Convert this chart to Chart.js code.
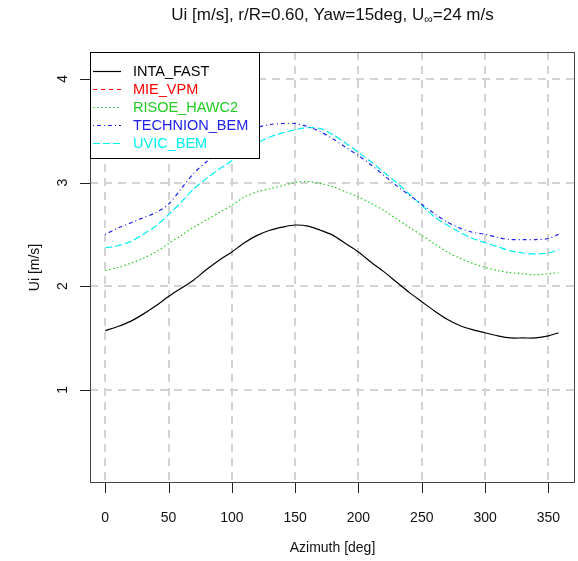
<!DOCTYPE html>
<html>
<head>
<meta charset="utf-8">
<script src="https://cdn.jsdelivr.net/npm/chart.js@4"></script>
<style>
html,body{margin:0;padding:0;background:#fff;}
#wrap{width:578px;height:561px;}
</style>
</head>
<body>
<div id="wrap"><canvas id="c" width="578" height="561"></canvas></div>
<script>
const azimuth = [0,10,20,30,40,50,60,70,80,90,100,110,120,130,140,150,160,170,180,190,200,210,220,230,240,250,260,270,280,290,300,310,320,330,340,350,358];
const intaFast = [1.57,1.61,1.66,1.73,1.81,1.90,1.98,2.06,2.16,2.25,2.33,2.42,2.49,2.54,2.57,2.59,2.58,2.54,2.49,2.41,2.33,2.23,2.14,2.04,1.94,1.85,1.76,1.68,1.62,1.58,1.55,1.52,1.50,1.50,1.50,1.52,1.55];
const mieVpm = [];
const risoeHawc2 = [2.15,2.18,2.22,2.27,2.33,2.41,2.49,2.57,2.64,2.71,2.78,2.86,2.91,2.94,2.97,3.00,3.01,2.99,2.96,2.91,2.86,2.80,2.73,2.65,2.57,2.49,2.41,2.33,2.27,2.22,2.18,2.15,2.13,2.12,2.11,2.12,2.13];
const technionBem = [2.50,2.56,2.61,2.66,2.71,2.79,2.94,3.09,3.20,3.30,3.39,3.47,3.53,3.56,3.57,3.57,3.54,3.49,3.42,3.34,3.26,3.17,3.07,2.97,2.88,2.79,2.70,2.62,2.56,2.52,2.50,2.47,2.45,2.45,2.45,2.46,2.50];
const uvicBem = [2.37,2.39,2.43,2.50,2.58,2.69,2.81,2.94,3.04,3.13,3.21,3.30,3.38,3.44,3.48,3.51,3.53,3.52,3.46,3.38,3.29,3.20,3.10,3.00,2.89,2.78,2.67,2.59,2.52,2.46,2.42,2.38,2.34,2.32,2.31,2.32,2.35];
const seriesNames = ['INTA_FAST','MIE_VPM','RISOE_HAWC2','TECHNION_BEM','UVIC_BEM'];
const xTicks = [0,50,100,150,200,250,300,350];
const yTicks = [1,2,3,4];

const seriesData = [intaFast, mieVpm, risoeHawc2, technionBem, uvicBem];
const colors = ['#000000','#ff0000','#22cc22','#2020f0','#00f0f0'];
const dashes = [[],[4,4],[1.5,2.5],[1,3,4,3],[7,3]];
const FAM = '"Liberation Sans", Arial, sans-serif';
const FONT = '14px ' + FAM;

const datasets = seriesData.map((arr, i) => ({
  label: seriesNames[i],
  data: arr.map((v, k) => ({x: azimuth[k], y: v})),
  borderColor: colors[i],
  borderWidth: 1.2,
  borderDash: dashes[i],
  pointRadius: 0,
  tension: 0.3,
  fill: false
}));

const rPlot = {
  id: 'rplot',
  afterDraw(chart) {
    const ctx = chart.ctx;
    const a = chart.chartArea;
    const xs = chart.scales.x, ys = chart.scales.y;
    ctx.save();
    ctx.strokeStyle = '#444';
    ctx.lineWidth = 1;
    ctx.setLineDash([]);
    ctx.strokeRect(a.left + 0.5, a.top + 0.5, a.right - a.left - 1, a.bottom - a.top - 1);
    ctx.strokeStyle = '#222';
    ctx.beginPath();
    xTicks.forEach(v => {
      const px = Math.round(xs.getPixelForValue(v)) + 0.5;
      ctx.moveTo(px, a.bottom); ctx.lineTo(px, a.bottom + 10);
    });
    yTicks.forEach(v => {
      const py = Math.round(ys.getPixelForValue(v)) + 0.5;
      ctx.moveTo(a.left, py); ctx.lineTo(a.left - 10, py);
    });
    ctx.stroke();
    ctx.fillStyle = '#111';
    ctx.font = FONT;
    ctx.textAlign = 'center';
    ctx.textBaseline = 'middle';
    xTicks.forEach(v => ctx.fillText(String(v), xs.getPixelForValue(v), 518));
    yTicks.forEach(v => {
      ctx.save();
      ctx.translate(63, ys.getPixelForValue(v));
      ctx.rotate(-Math.PI / 2);
      ctx.fillText(String(v), 0, 0);
      ctx.restore();
    });
    const cx = (a.left + a.right) / 2;
    ctx.fillText('Azimuth [deg]', cx, 548);
    ctx.save();
    ctx.translate(35, (a.top + a.bottom) / 2);
    ctx.rotate(-Math.PI / 2);
    ctx.fillText('Ui [m/s]', 0, 0);
    ctx.restore();
    // title with subscript
    const TFONT = '17px ' + FAM;
    const p1 = 'Ui [m/s], r/R=0.60, Yaw=15deg, U';
    const sub = '\u221E';
    const p2 = '=24 m/s';
    const subFont = '12px ' + FAM;
    ctx.textAlign = 'left';
    ctx.font = TFONT;
    const w1 = ctx.measureText(p1).width, w3 = ctx.measureText(p2).width;
    ctx.font = subFont;
    const w2 = ctx.measureText(sub).width;
    let tx = cx - (w1 + w2 + w3) / 2;
    ctx.font = TFONT;
    ctx.fillText(p1, tx, 15);
    ctx.font = subFont;
    ctx.fillText(sub, tx + w1, 20);
    ctx.font = TFONT;
    ctx.fillText(p2, tx + w1 + w2, 15);
    // legend
    const lx = a.left, ly = a.top, lw = 169, lh = 106;
    ctx.fillStyle = '#fff';
    ctx.fillRect(lx, ly, lw, lh);
    ctx.strokeStyle = '#000';
    ctx.lineWidth = 1;
    ctx.strokeRect(lx + 0.5, ly + 0.5, lw, lh);
    ctx.textBaseline = 'middle';
    seriesNames.forEach((n, i) => {
      const yy = Math.round(70.5 + i * 18) + 0.5;
      ctx.strokeStyle = colors[i];
      ctx.lineWidth = 1.2;
      ctx.setLineDash(dashes[i]);
      ctx.beginPath();
      ctx.moveTo(93, yy); ctx.lineTo(121, yy);
      ctx.stroke();
      ctx.setLineDash([]);
      ctx.fillStyle = colors[i];
      ctx.font = '14.5px ' + FAM;
      ctx.fillText(n, 133, yy);
    });
    ctx.restore();
  }
};

new Chart(document.getElementById('c'), {
  type: 'line',
  data: { datasets },
  options: {
    responsive: false,
    animation: false,
    devicePixelRatio: 1,
    layout: { padding: { left: 90, top: 52, right: 3, bottom: 78 } },
    plugins: { legend: { display: false }, tooltip: { enabled: false }, title: { display: false } },
    scales: {
      x: {
        type: 'linear', min: -12, max: 371,
        afterBuildTicks: s => { s.ticks = xTicks.map(v => ({value: v})); },
        ticks: { display: false },
        grid: { color: '#d3d3d3', lineWidth: 2, drawTicks: false, tickLength: 0 },
        border: { display: false, dash: [8, 6] }
      },
      y: {
        type: 'linear', min: 0.1, max: 4.26,
        afterBuildTicks: s => { s.ticks = yTicks.map(v => ({value: v})); },
        ticks: { display: false },
        grid: { color: '#d3d3d3', lineWidth: 2, drawTicks: false, tickLength: 0 },
        border: { display: false, dash: [8, 6] }
      }
    }
  },
  plugins: [rPlot]
});
</script>
</body>
</html>
